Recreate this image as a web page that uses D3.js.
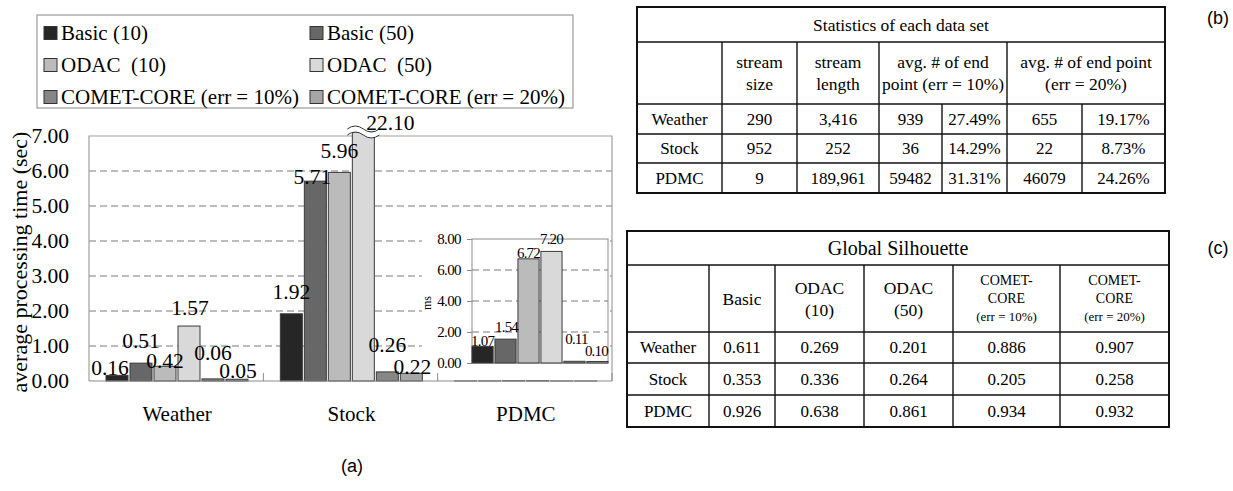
<!DOCTYPE html>
<html><head><meta charset="utf-8">
<script src="https://cdn.jsdelivr.net/npm/d3@7"></script>
<style>
body{margin:0;background:#fff;}
svg{display:block;}
text{font-family:"Liberation Serif","Times New Roman",serif;fill:#000;}
.sans{font-family:"Liberation Sans",Arial,sans-serif;}
</style></head><body>
<svg id="chart" width="1233" height="491"></svg>
<script>
// ---------- data ----------
const categories = ["Weather", "Stock", "PDMC"];
const seriesNames = ["Basic (10)", "Basic (50)", "ODAC  (10)", "ODAC  (50)", "COMET-CORE (err = 10%)", "COMET-CORE (err = 20%)"];
const weatherSec = [0.16, 0.51, 0.42, 1.57, 0.06, 0.05];
const stockSec = [1.92, 5.71, 5.96, 22.10, 0.26, 0.22];
const pdmcSec = [0.00107, 0.00154, 0.00672, 0.00720, 0.00011, 0.00010];
const pdmcMs = [1.07, 1.54, 6.72, 7.20, 0.11, 0.10];
const yTicks = [0, 1, 2, 3, 4, 5, 6, 7];
const insetTicks = [0, 2, 4, 6, 8];

const statRows = ["Weather", "Stock", "PDMC"];
const streamSize = ["290", "952", "9"];
const streamLength = ["3,416", "252", "189,961"];
const endPt10 = ["939", "36", "59482"];
const endPt10Pct = ["27.49%", "14.29%", "31.31%"];
const endPt20 = ["655", "22", "46079"];
const endPt20Pct = ["19.17%", "8.73%", "24.26%"];

const silRows = ["Weather", "Stock", "PDMC"];
const silHeaders = [[""], ["Basic"], ["ODAC", "(10)"], ["ODAC", "(50)"], ["COMET-", "CORE", "(err = 10%)"], ["COMET-", "CORE", "(err = 20%)"]];
const silBasic = ["0.611", "0.353", "0.926"];
const silOdac10 = ["0.269", "0.336", "0.638"];
const silOdac50 = ["0.201", "0.264", "0.861"];
const silComet10 = ["0.886", "0.205", "0.934"];
const silComet20 = ["0.907", "0.258", "0.932"];

// ---------- styles / layout ----------
const colors = ["#262626", "#676767", "#bbbbbb", "#d9d9d9", "#868686", "#a6a6a6"];
const mainLabelNudge = [
  [[-7, -8], [0, -23], [0, -6], [1, -19], [0, -26], [1, -9]],
  [[0, -22], [-3, -5], [0, -22], [27, -10], [0, -27], [1, -7]]
];
const insetLabelNudge = [[0, -6], [1, -12], [0, -6], [0, -13], [2, -23], [-1, -11]];

const svg = d3.select("#chart");
const seriesByCat = [weatherSec, stockSec, pdmcSec];

// ---------- main chart ----------
const L = 89, R = 612, T = 136, B = 381;
const x0 = d3.scaleBand().domain(categories).range([L, R]);
const x1 = d3.scaleBand().domain(d3.range(6)).range([17, 159]).paddingInner(2 / 24);
const y = d3.scaleLinear().domain([0, 7]).range([B, T]);

const g = svg.append("g");
g.selectAll("line.grid").data(yTicks.filter(t => t > 0 && t < 7)).join("line")
  .attr("x1", L).attr("x2", R).attr("y1", d => y(d)).attr("y2", d => y(d))
  .attr("stroke", "#7a7a7a").attr("stroke-width", 1).attr("stroke-dasharray", "7,4");
g.append("path").attr("d", `M${L},${B}V${T}H${R}V${B}`).attr("fill", "none").attr("stroke", "#a0a0a0").attr("stroke-width", 1.2);

const yAxis = d3.axisLeft(y).tickValues(yTicks).tickFormat(d3.format(".2f")).tickSize(0).tickPadding(20);
const ya = svg.append("g").attr("transform", `translate(${L},0)`).call(yAxis);
ya.select(".domain").remove();
ya.selectAll("text").attr("font-family", "Liberation Serif").attr("font-size", 21.5).attr("fill", "#000");

svg.append("text").attr("transform", `translate(27,262) rotate(-90)`)
  .attr("text-anchor", "middle").attr("font-size", 22).text("average processing time (sec)");

const yClip = y(7) - 4;
const groups = g.selectAll("g.cat").data(categories).join("g")
  .attr("transform", d => `translate(${x0(d)},0)`);
groups.selectAll("rect").data((c, ci) => seriesByCat[ci].map((v, si) => ({ v, si, ci }))).join("rect")
  .attr("x", d => x1(d.si)).attr("width", x1.bandwidth())
  .attr("y", d => Math.max(y(d.v), yClip))
  .attr("height", d => B - Math.max(y(d.v), yClip))
  .attr("fill", d => colors[d.si]).attr("stroke", "#3a3a3a").attr("stroke-width", 1);

g.append("line").attr("x1", L).attr("x2", R).attr("y1", B).attr("y2", B).attr("stroke", "#8c8c8c").attr("stroke-width", 1.2);
g.selectAll("line.ctick").data(categories.slice(1).concat(["end"])).join("line")
  .attr("x1", d => d === "end" ? R : x0(d)).attr("x2", d => d === "end" ? R : x0(d))
  .attr("y1", B - 8).attr("y2", B).attr("stroke", "#8c8c8c");

const brokenCat = 1, brokenSeries = 3;
const bx = x0(categories[brokenCat]) + x1(brokenSeries);
const bw = x1.bandwidth();
const wave = (yy) => `M${bx - 5},${yy} q${(bw + 10) / 4},-6 ${(bw + 10) / 2},0 t${(bw + 10) / 2},0`;
svg.append("path").attr("d", `${wave(yClip - 3)} L${bx + bw + 5},${yClip + 3} q${-(bw + 10) / 4},6 ${-(bw + 10) / 2},0 t${-(bw + 10) / 2},0 Z`)
  .attr("fill", "#fff").attr("stroke", "none");
svg.append("path").attr("d", wave(yClip - 3)).attr("fill", "none").attr("stroke", "#333").attr("stroke-width", 1);
svg.append("path").attr("d", wave(yClip + 3)).attr("fill", "none").attr("stroke", "#333").attr("stroke-width", 1);

[0, 1].forEach(ci => {
  const vals = seriesByCat[ci];
  svg.selectAll(null).data(vals).join("text")
    .attr("x", (v, si) => x0(categories[ci]) + x1(si) + bw / 2 + mainLabelNudge[ci][si][0])
    .attr("y", (v, si) => Math.max(y(v), yClip) + mainLabelNudge[ci][si][1])
    .attr("dy", "0.35em").attr("text-anchor", "middle").attr("font-size", 21.5)
    .text(d => d3.format(".2f")(d));
});

svg.selectAll("text.cat").data(categories).join("text")
  .attr("x", d => x0(d) + x0.bandwidth() / 2 + 1).attr("y", 421)
  .attr("text-anchor", "middle").attr("font-size", 21).text(d => d);

// ---------- inset (PDMC in ms) ----------
const IL = 472, IR = 608, IT = 239, IB = 363;
const ix = d3.scaleBand().domain(d3.range(6)).range([IL, IR]).paddingInner(0.08);
const iy = d3.scaleLinear().domain([0, 8]).range([IB, IT]);
svg.append("rect").attr("x", 422).attr("y", 229).attr("width", 188).attr("height", 127).attr("fill", "#fff");
svg.append("rect").attr("x", IL).attr("y", IT).attr("width", IR - IL).attr("height", IB - IT).attr("fill", "#fff");
svg.selectAll("line.igrid").data(insetTicks.filter(t => t > 0 && t < 8)).join("line")
  .attr("x1", IL).attr("x2", IR).attr("y1", d => iy(d)).attr("y2", d => iy(d))
  .attr("stroke", "#7a7a7a").attr("stroke-dasharray", "7,4");
svg.append("rect").attr("x", IL).attr("y", IT).attr("width", IR - IL).attr("height", IB - IT)
  .attr("fill", "none").attr("stroke", "#8c8c8c").attr("stroke-width", 1);
const iAxis = d3.axisLeft(iy).tickValues(insetTicks).tickFormat(d3.format(".2f")).tickSize(5).tickPadding(6);
const ia = svg.append("g").attr("transform", `translate(${IL},0)`).call(iAxis);
ia.select(".domain").remove();
ia.selectAll("line").attr("stroke", "#8c8c8c");
ia.selectAll("text").attr("font-family", "Liberation Serif").attr("font-size", 15).attr("letter-spacing", "-0.6px").attr("fill", "#000");
svg.append("text").attr("transform", "translate(431,303) rotate(-90)").attr("text-anchor", "middle")
  .attr("font-size", 12).text("ms");
svg.selectAll("rect.ibar").data(pdmcMs).join("rect")
  .attr("x", (d, i) => ix(i)).attr("width", ix.bandwidth())
  .attr("y", d => iy(d)).attr("height", d => IB - iy(d))
  .attr("fill", (d, i) => colors[i]).attr("stroke", "#3a3a3a").attr("stroke-width", 1);
svg.selectAll("text.ilab").data(pdmcMs).join("text")
  .attr("x", (d, i) => ix(i) + ix.bandwidth() / 2 + insetLabelNudge[i][0])
  .attr("y", (d, i) => iy(d) + insetLabelNudge[i][1])
  .attr("dy", "0.35em").attr("text-anchor", "middle").attr("font-size", 15).attr("letter-spacing", "-0.8px")
  .text(d => d3.format(".2f")(d));

// ---------- legend ----------
svg.append("rect").attr("x", 37).attr("y", 15).attr("width", 536).attr("height", 93)
  .attr("fill", "#fff").attr("stroke", "#9a9a9a").attr("stroke-width", 1.2);
const legRowY = [33, 65, 97], legColX = [44, 310];
const leg = svg.selectAll("g.leg").data(seriesNames).join("g")
  .attr("transform", (d, i) => `translate(${legColX[i % 2]},${legRowY[Math.floor(i / 2)]})`);
leg.append("rect").attr("x", 0).attr("y", -6.5).attr("width", 13).attr("height", 13)
  .attr("fill", (d, i) => colors[i]).attr("stroke", "#333").attr("stroke-width", 1);
leg.append("text").attr("x", 17).attr("dy", "0.35em").attr("font-size", 21)
  .style("white-space", "pre").text(d => d);

// ---------- tables ----------
function cellText(gsel, cx, cy, lines, size, lh) {
  const n = lines.length;
  lines.forEach((t, k) => {
    gsel.append("text").attr("x", cx).attr("y", cy + (k - (n - 1) / 2) * lh).attr("dy", "0.35em")
      .attr("text-anchor", "middle").attr("font-size", Array.isArray(size) ? size[k] : size).text(t);
  });
}
function hline(gsel, x1, x2, yy, w) { gsel.append("line").attr("x1", x1).attr("x2", x2).attr("y1", yy).attr("y2", yy).attr("stroke", "#111").attr("stroke-width", w); }
function vline(gsel, xx, y1, y2, w) { gsel.append("line").attr("x1", xx).attr("x2", xx).attr("y1", y1).attr("y2", y2).attr("stroke", "#111").attr("stroke-width", w); }

// table (b)
const tb = svg.append("g");
const bX = [637, 722, 797, 879, 942, 1007, 1082, 1165];
const bY = [7, 42, 104, 134, 163, 193];
const bCols = [statRows, streamSize, streamLength, endPt10, endPt10Pct, endPt20, endPt20Pct];
cellText(tb, (bX[0] + bX[7]) / 2, (bY[0] + bY[1]) / 2, ["Statistics of each data set"], 17.5, 0);
const bHead = [[""], ["stream", "size"], ["stream", "length"]];
bHead.forEach((h, c) => cellText(tb, (bX[c] + bX[c + 1]) / 2, (bY[1] + bY[2]) / 2, h, 17.5, 22));
cellText(tb, (bX[3] + bX[5]) / 2, (bY[1] + bY[2]) / 2, ["avg. # of end", "point (err = 10%)"], 17.5, 22);
cellText(tb, (bX[5] + bX[7]) / 2, (bY[1] + bY[2]) / 2, ["avg. # of end point", "(err = 20%)"], 17.5, 22);
bCols.forEach((col, c) => col.forEach((t, r) => cellText(tb, (bX[c] + bX[c + 1]) / 2, (bY[r + 2] + bY[r + 3]) / 2, [t], 17, 0)));
[1, 2, 3, 4].forEach(k => hline(tb, bX[0], bX[7], bY[k], 1.4));
[1, 2, 3, 5].forEach(k => vline(tb, bX[k], bY[1], bY[5], 1.4));
[4, 6].forEach(k => vline(tb, bX[k], bY[2], bY[5], 1.4));
tb.append("rect").attr("x", bX[0]).attr("y", bY[0]).attr("width", bX[7] - bX[0]).attr("height", bY[5] - bY[0])
  .attr("fill", "none").attr("stroke", "#111").attr("stroke-width", 2);

// table (c)
const tc = svg.append("g");
const cX = [627, 709, 775, 864, 953, 1060, 1169];
const cY = [231, 265, 332, 363, 395, 427];
const cCols = [silRows, silBasic, silOdac10, silOdac50, silComet10, silComet20];
cellText(tc, (cX[0] + cX[6]) / 2, (cY[0] + cY[1]) / 2, ["Global Silhouette"], 20, 0);
silHeaders.forEach((h, c) => {
  const sizes = h.length === 3 ? [14, 14, 13] : 17.5;
  cellText(tc, (cX[c] + cX[c + 1]) / 2, (cY[1] + cY[2]) / 2, h, sizes, h.length === 3 ? 18 : 22);
});
cCols.forEach((col, c) => col.forEach((t, r) => cellText(tc, (cX[c] + cX[c + 1]) / 2, (cY[r + 2] + cY[r + 3]) / 2, [t], 17, 0)));
[1, 2, 3, 4].forEach(k => hline(tc, cX[0], cX[6], cY[k], 1.4));
[1, 2, 3, 4, 5].forEach(k => vline(tc, cX[k], cY[1], cY[5], 1.4));
tc.append("rect").attr("x", cX[0]).attr("y", cY[0]).attr("width", cX[6] - cX[0]).attr("height", cY[5] - cY[0])
  .attr("fill", "none").attr("stroke", "#111").attr("stroke-width", 2);

// panel labels
svg.append("text").attr("class", "sans").attr("x", 1218).attr("y", 18).attr("dy", "0.35em").attr("text-anchor", "middle").attr("font-size", 18).text("(b)");
svg.append("text").attr("class", "sans").attr("x", 1218).attr("y", 248).attr("dy", "0.35em").attr("text-anchor", "middle").attr("font-size", 18).text("(c)");
svg.append("text").attr("class", "sans").attr("x", 352).attr("y", 466).attr("dy", "0.35em").attr("text-anchor", "middle").attr("font-size", 18).text("(a)");
</script>
</body></html>
